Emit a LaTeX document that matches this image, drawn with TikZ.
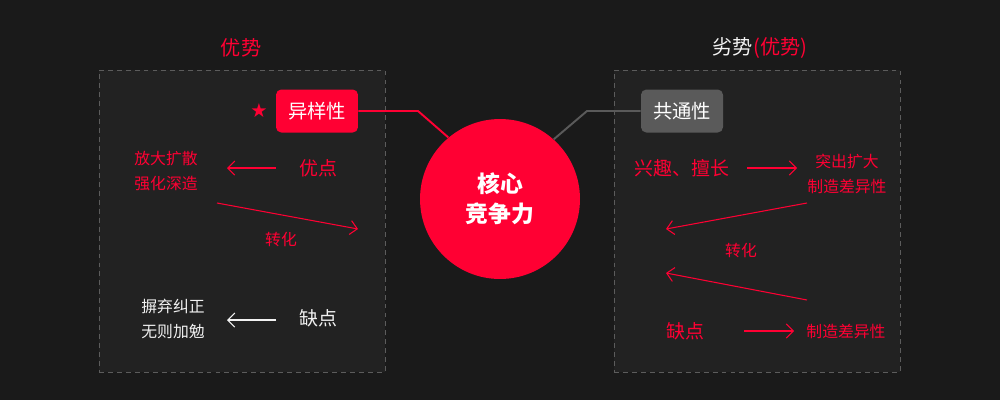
\documentclass[tikz,border=0pt]{standalone}
\usepackage{fontspec}
\setmainfont{Noto Sans CJK SC}
\newfontfamily\symfont{DejaVu Sans}
\usetikzlibrary{arrows.meta,positioning}
\definecolor{bgdark}{HTML}{1A1A1A}
\definecolor{panel}{HTML}{222222}
\definecolor{dashgray}{HTML}{5C5C5C}
\definecolor{hotred}{HTML}{FF0033}
\definecolor{slate}{HTML}{5A5A5A}
\definecolor{softwhite}{HTML}{F2F2F2}
\tikzset{
  panelbox/.style={
    rectangle, draw=dashgray, dashed, dash pattern=on 2.8pt off 2.3pt,
    fill=panel, minimum width=5.72cm, minimum height=6.04cm
  },
  tagbox/.style={
    rectangle, rounded corners=3pt, fill=#1, text=white,
    minimum width=1.64cm, minimum height=0.86cm,
    font=\fontsize{11}{13}\selectfont, inner sep=2pt
  },
  tagbox/.default=hotred,
  headlabel/.style={
    font=\fontsize{11.5}{14}\selectfont, text=#1
  },
  headlabel/.default=hotred,
  keylabel/.style={
    font=\fontsize{10.8}{13}\selectfont, text=#1
  },
  keylabel/.default=hotred,
  notelabel/.style={
    font=\fontsize{9}{14.2}\selectfont, text=#1, align=center
  },
  notelabel/.default=hotred,
  flowarrow/.style={
    -{Straight Barb[length=4pt,width=8pt]}, line width=0.6pt, color=#1
  },
  flowarrow/.default=hotred,
  linkline/.style={line width=1.1pt, color=#1},
  linkline/.default=hotred,
}

\begin{document}
\begin{tikzpicture}[x=0.02cm, y=-0.02cm]
  % background
  \fill[bgdark] (0,0) rectangle (1000,400);
  \useasboundingbox (0,0) rectangle (1000,400);

  % panels
  \node[panelbox] (leftpanel) at (242,221) {};
  \node[panelbox] (rightpanel) at (757,221) {};

  % titles
  \node[headlabel] (lefttitle) at (241,48) {优势};
  \node[headlabel=softwhite] (righttitle) at (760,48) {劣势\textcolor{hotred}{(优势)}};

  % core
  \node[circle, fill=hotred, minimum size=3.2cm, text=white, align=center,
        font=\fontsize{13}{17}\bfseries\selectfont] (core) at (500,199) {核心\\竞争力};

  % tags
  \node[tagbox] (diff) at (317,111) {异样性};
  \node[text=hotred, font=\symfont\fontsize{11}{13}\selectfont] (star) at (259,111) {★};
  \node[tagbox=slate] (common) at (682,111) {共通性};
  \coordinate (diffbend) at (418,111);
  \coordinate (commonbend) at (587,111);
  \draw[linkline] (diff.east) -- (diffbend) -- (core.130);
  \draw[linkline=slate] (common.west) -- (commonbend) -- (core.48);

  % left panel
  \node[keylabel] (pros) at (318,168) {优点};
  \node[notelabel] (amplify) at (166,171) {放大扩散\\强化深造};
  \coordinate (prosfrom) at (276,168);
  \coordinate (prosto) at (227,168);
  \draw[flowarrow] (prosfrom) -- (prosto);
  \coordinate (ltfrom) at (217,203);
  \coordinate (ltto) at (358,229);
  \draw[flowarrow] (ltfrom) -- (ltto);
  \node[notelabel] (ltturn) at (281,239) {转化};
  \node[keylabel=softwhite] (cons) at (318,318) {缺点};
  \node[notelabel=softwhite] (discard) at (173,319) {摒弃纠正\\无则加勉};
  \coordinate (consfrom) at (276,320);
  \coordinate (consto) at (227,320);
  \draw[flowarrow=softwhite] (consfrom) -- (consto);

  % right panel
  \node[keylabel] (talent) at (682,168) {兴趣、擅长};
  \node[notelabel] (stress) at (847,174) {突出扩大\\制造差异性};
  \coordinate (talentfrom) at (747,168);
  \coordinate (talentto) at (797,168);
  \draw[flowarrow] (talentfrom) -- (talentto);
  \coordinate (rtfromA) at (807,203);
  \coordinate (rttoA) at (666,229);
  \draw[flowarrow] (rtfromA) -- (rttoA);
  \node[notelabel] (rtturn) at (741,250) {转化};
  \coordinate (rtfromB) at (807,300);
  \coordinate (rttoB) at (666,273);
  \draw[flowarrow] (rtfromB) -- (rttoB);
  \node[keylabel] (weak) at (685,331) {缺点};
  \node[notelabel] (make) at (846,331) {制造差异性};
  \coordinate (weakfrom) at (744,331);
  \coordinate (weakto) at (794,331);
  \draw[flowarrow] (weakfrom) -- (weakto);
\end{tikzpicture}
\end{document}
